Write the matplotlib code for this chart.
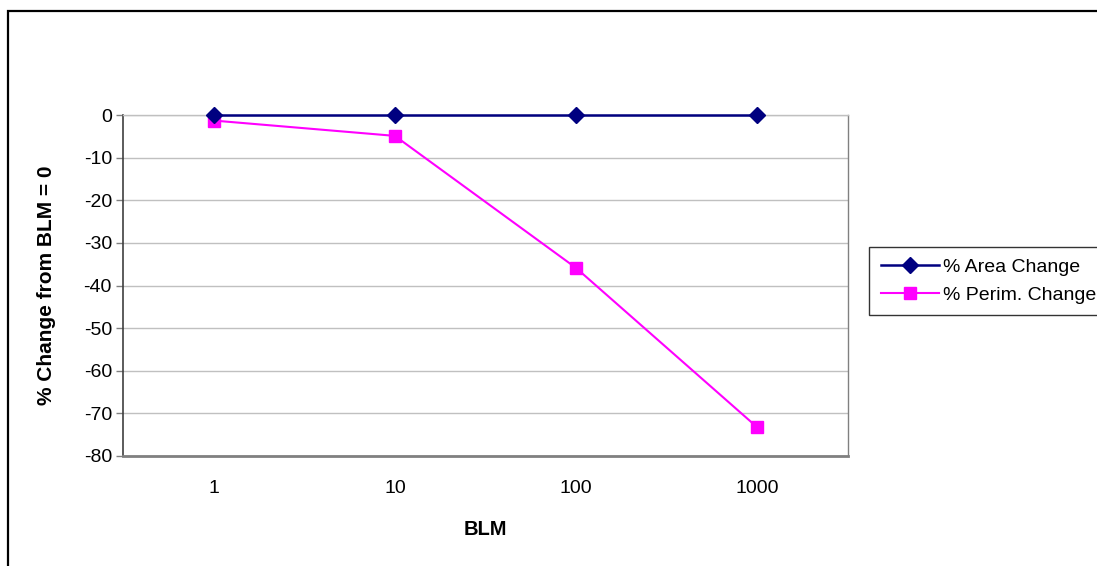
import matplotlib.pyplot as plt
from matplotlib.patches import Rectangle

# data
blm_labels = ["1", "10", "100", "1000"]
area_change = [0, 0, 0, 0]
perim_change = [-1.3, -4.9, -35.9, -73.3]
y_ticks = [0, -10, -20, -30, -40, -50, -60, -70, -80]

plt.rcParams['font.family'] = ['Liberation Sans', 'DejaVu Sans']
plt.rcParams['axes.unicode_minus'] = False

W, H = 1097, 566
fig = plt.figure(figsize=(W / 100, H / 100), dpi=100)

# outer chart frame (cropped at right and bottom)
fig.patches.append(Rectangle((8 / W, -0.05), 1.2, 1 - 11 / H + 0.05,
                             transform=fig.transFigure, fill=False,
                             edgecolor='black', linewidth=1.6))

# plot area
left, right, top, bottom = 123, 848, 115, 456
ax = fig.add_axes([left / W, 1 - bottom / H, (right - left) / W, (bottom - top) / H])

x = list(range(len(blm_labels)))
ax.plot(x, area_change, color='#000080', marker='D', markersize=8,
        linewidth=1.8, label='% Area Change', zorder=5, clip_on=False)
ax.plot(x, perim_change, color='#FF00FF', marker='s', markersize=9,
        linewidth=1.5, label='% Perim. Change', zorder=4, clip_on=False)

ax.set_xlim(-0.5, len(blm_labels) - 0.5)
ax.set_ylim(-80, 0)
ax.set_xticks(x)
ax.set_xticklabels(blm_labels)
ax.set_yticks(y_ticks)
ax.yaxis.grid(True, color='#c0c0c0', linewidth=1)
ax.set_axisbelow(True)

ax.tick_params(axis='x', length=0, labelsize=14, pad=17)
ax.tick_params(axis='y', length=5, width=1, color='#808080', labelsize=14, pad=3)

ax.spines['top'].set_color('#c0c0c0')
ax.spines['top'].set_linewidth(1)
ax.spines['right'].set_color('#808080')
ax.spines['right'].set_linewidth(1)
ax.spines['bottom'].set_color('#808080')
ax.spines['bottom'].set_linewidth(2)
ax.spines['left'].set_color('#404040')
ax.spines['left'].set_linewidth(1.2)

ax.set_xlabel('BLM', fontsize=14.5, fontweight='bold', labelpad=17)
ax.set_ylabel('% Change from BLM = 0', fontsize=15, fontweight='bold', labelpad=20)

leg = fig.legend(loc='upper left', bbox_to_anchor=(869 / W, 1 - 247 / H),
                 fontsize=14, frameon=True, fancybox=False, borderpad=0.6,
                 borderaxespad=0, handlelength=3.0, handletextpad=0.2,
                 labelspacing=0.5)
leg.get_frame().set_edgecolor('black')
leg.get_frame().set_linewidth(1)

fig.savefig('out.png', dpi=100)
plt.close(fig)
